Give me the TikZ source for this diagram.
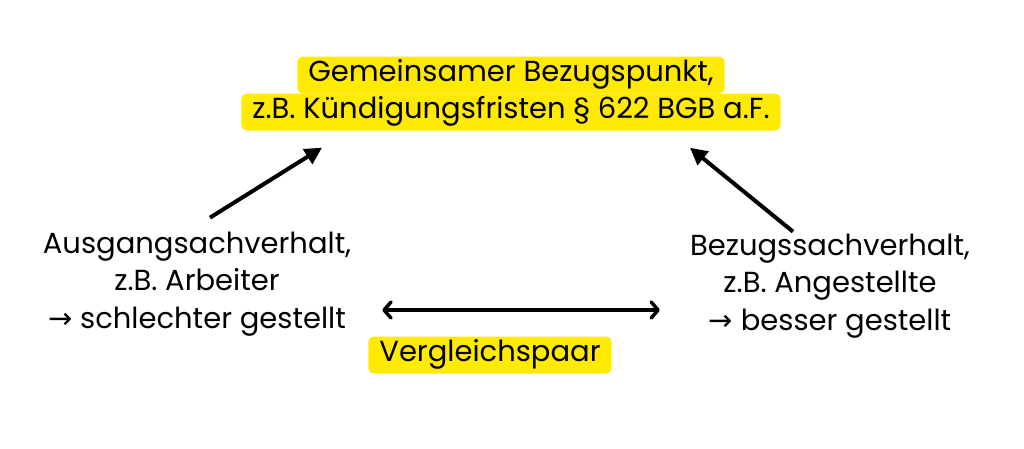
\documentclass[tikz,border=0pt]{standalone}
\usepackage{fontspec}
\setmainfont{Poppins}
\newfontfamily\symfont{DejaVu Sans}
\usepackage{xcolor}
\usetikzlibrary{arrows.meta,positioning}
\definecolor{marker}{HTML}{FFEA00}

\begin{document}
\begin{tikzpicture}[x=1pt,y=-1pt]
            \tikzstyle{caption} = [font=\fontsize{29}{37.5}\selectfont, align=center, inner sep=0pt]
            \tikzstyle{highlight} = [caption, fill=marker, rounded corners=6pt, inner xsep=11pt, text height=20pt, text depth=7pt, minimum height=37pt]
            \tikzstyle{arrow} = [line width=4pt, -{Triangle[length=17pt,width=17pt]}]
            \tikzstyle{pair} = [line width=3.5pt, line cap=round, {Straight Barb[length=7pt,width=16pt,line cap=round,line join=round]}-{Straight Barb[length=7pt,width=16pt,line cap=round,line join=round]}]

            \useasboundingbox (0,0) rectangle (1024,448);

            \node [highlight] (refline) at (511,75) {Gemeinsamer Bezugspunkt,};
            \node [highlight] (reference) at (511,112) {z.B. Kündigungsfristen § 622 BGB a.F.};
            \node [caption] (origin) at (197,284) {Ausgangsachverhalt,\\z.B. Arbeiter\\{\symfont→} schlechter gestellt};
            \node [caption] (target) at (830,286) {Bezugssachverhalt,\\z.B. Angestellte\\{\symfont→} besser gestellt};
            \node [highlight] (pairing) at (490,355) {Vergleichspaar};

            \draw [arrow] ([xshift=13pt,yshift=14pt]origin.north) -- ([xshift=-189pt,yshift=-17pt]reference.south);
            \draw [arrow] ([xshift=-37pt,yshift=2pt]target.north) -- ([xshift=179pt,yshift=-17pt]reference.south);
            \draw [pair] ([xshift=31pt,yshift=-26pt]origin.east) -- ([xshift=-30pt,yshift=-24pt]target.west);
        \end{tikzpicture}
\end{document}
